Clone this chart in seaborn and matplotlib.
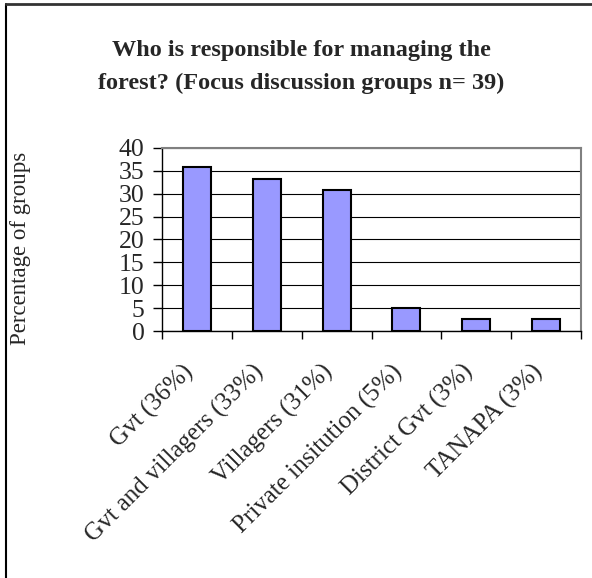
import matplotlib
matplotlib.use("Agg")
import matplotlib.pyplot as plt
import matplotlib.transforms as mtransforms
import seaborn as sns
import pandas as pd
from matplotlib.lines import Line2D

# data (percent of 39 focus groups)
categories = ["Gvt (36%)", "Gvt and villagers (33%)", "Villagers (31%)",
              "Private insitution (5%)", "District Gvt (3%)", "TANAPA (3%)"]
percent = [35.9, 33.3, 30.8, 5.1, 2.6, 2.6]
y_ticks = [0, 5, 10, 15, 20, 25, 30, 35, 40]

df = pd.DataFrame({"who": categories, "pct": percent})

sns.set_style("white")
plt.rcParams["font.family"] = ["Liberation Serif", "DejaVu Serif"]

fig = plt.figure(figsize=(5.92, 5.78), dpi=100)
ax = fig.add_axes([162 / 592, 1 - 331 / 578, (581 - 162) / 592, (331 - 148) / 578])

sns.barplot(data=df, x="who", y="pct", color="#9999FF", edgecolor="black",
            linewidth=1.5, width=0.4, saturation=1, ax=ax)

ax.set_ylim(0, 40)
ax.set_xlim(-0.5, len(categories) - 0.5)
ax.set_yticks(y_ticks)
ax.set_yticklabels([str(t) for t in y_ticks], fontsize=18.5)
ax.set_axisbelow(True)
ax.yaxis.grid(True, color="black", linewidth=0.8)
ax.set_xlabel("")
ax.set_ylabel("")

# tick marks between categories like the spreadsheet chart
ax.set_xticks(range(len(categories)))
ax.set_xticklabels(categories, rotation=45, ha="right", va="center",
                   rotation_mode="anchor", fontsize=18)
ax.tick_params(axis="x", which="major", length=0, pad=27)
shift = mtransforms.ScaledTranslation(-7 / 100, 0, fig.dpi_scale_trans)
for lab in ax.get_xticklabels():
    lab.set_transform(lab.get_transform() + shift)
ax.set_xticks([i - 0.5 for i in range(len(categories) + 1)], minor=True)
ax.tick_params(axis="x", which="minor", length=5.5, width=1, color="black", direction="out", bottom=True)
ax.tick_params(axis="y", length=6.5, width=1, color="black", direction="out", left=True, pad=6)

for side in ["top", "right"]:
    ax.spines[side].set_color("#808080")
    ax.spines[side].set_linewidth(1.5)
for side in ["left", "bottom"]:
    ax.spines[side].set_color("black")
    ax.spines[side].set_linewidth(1)

fig.text(301 / 592, 1 - 67 / 578,
         "Who is responsible for managing the\nforest? (Focus discussion groups n= 39)",
         ha="center", va="center", fontsize=17.5, fontweight="bold", linespacing=1.7)
fig.text(21 / 592, 1 - 248 / 578, "Percentage of groups", rotation=90,
         ha="center", va="center", fontsize=16.5)

# chart frame (left and top edges visible)
fig.add_artist(Line2D([6 / 592, 6 / 592], [0, 1 - 4 / 578], transform=fig.transFigure, color="black", linewidth=1.5))
fig.add_artist(Line2D([6 / 592, 1], [1 - 4 / 578, 1 - 4 / 578], transform=fig.transFigure, color="#333333", linewidth=2))

fig.savefig("out.png", dpi=100)
